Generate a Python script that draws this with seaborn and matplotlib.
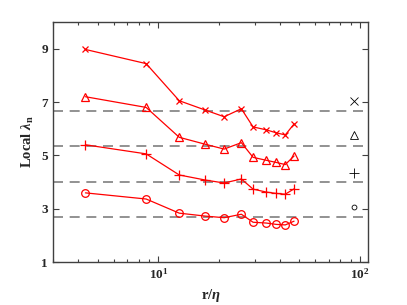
import matplotlib
matplotlib.use("Agg")
import matplotlib.pyplot as plt
import seaborn as sns
import pandas as pd
from matplotlib.ticker import FixedLocator, LogLocator, NullFormatter

# Data
r_eta = [4.35, 8.7, 12.7, 17.1, 21.2, 25.8, 29.5, 34.3, 38.4, 42.6, 47.1]
lam_x = [8.97, 8.44, 7.05, 6.70, 6.45, 6.75, 6.07, 5.96, 5.85, 5.77, 6.18]
lam_tri = [7.20, 6.80, 5.68, 5.42, 5.24, 5.48, 4.93, 4.82, 4.74, 4.66, 4.98]
lam_plus = [5.40, 5.06, 4.27, 4.08, 3.97, 4.12, 3.74, 3.63, 3.58, 3.55, 3.75]
lam_o = [3.60, 3.37, 2.84, 2.73, 2.67, 2.80, 2.50, 2.47, 2.42, 2.40, 2.54]
ref_levels = [6.68, 5.36, 4.0, 2.68]
sym_x = 93
sym_y = [7.05, 5.75, 4.35, 3.07]

sns.set_style("ticks")
plt.rcParams["font.family"] = ["Liberation Serif", "DejaVu Serif"]
plt.rcParams["font.weight"] = "bold"
plt.rcParams["mathtext.fontset"] = "custom"
plt.rcParams["mathtext.rm"] = "Liberation Serif:bold"
plt.rcParams["mathtext.it"] = "Liberation Serif:bold:italic"

fig, ax = plt.subplots(figsize=(4.07, 3.05), dpi=100)
fig.subplots_adjust(left=0.13, right=0.905, top=0.928, bottom=0.14)

for lev in ref_levels:
    ax.axhline(lev, color="#7f7f7f", lw=1.2, ls=(0, (6, 4)), zorder=1)

series = [(lam_x, "x", 4), (lam_tri, "^", 6), (lam_plus, "+", 6.5), (lam_o, "o", 5.5)]
for vals, mk, ms in series:
    df = pd.DataFrame({"r": r_eta, "lam": vals})
    sns.lineplot(data=df, x="r", y="lam", ax=ax, color="red", lw=0.9,
                 marker=mk, markersize=ms, markerfacecolor="none",
                 markeredgecolor="red", markeredgewidth=0.9, zorder=3)

for mk, yv, ms in zip(["x", "^", "+", "o"], sym_y, [5.5, 6, 7, 3.5]):
    ax.plot([sym_x], [yv], marker=mk, color="black", markersize=ms,
            markerfacecolor="none", markeredgewidth=0.6, ls="none")

ax.set_xscale("log")
ax.set_xlim(3, 110)
ax.set_ylim(1, 10)
ax.yaxis.set_major_locator(FixedLocator([1, 3, 5, 7, 9]))
ax.xaxis.set_major_locator(LogLocator(base=10))
ax.xaxis.set_minor_locator(LogLocator(base=10, subs=range(2, 10)))
ax.xaxis.set_minor_formatter(NullFormatter())
ax.tick_params(which="both", direction="in", top=True, right=True,
               labelsize=9.5, color="#404040", width=0.8)
ax.tick_params(which="major", length=4)
ax.tick_params(which="minor", length=2.5)
for sp in ax.spines.values():
    sp.set_color("#404040")
    sp.set_linewidth(1.0)

ax.set_xlabel(r"r/$\eta$", fontsize=10.5, fontweight="bold")
ax.set_ylabel(r"Local $\lambda_{\rm n}$", fontsize=10.5, fontweight="bold")

plt.savefig("out.png", dpi=100)
